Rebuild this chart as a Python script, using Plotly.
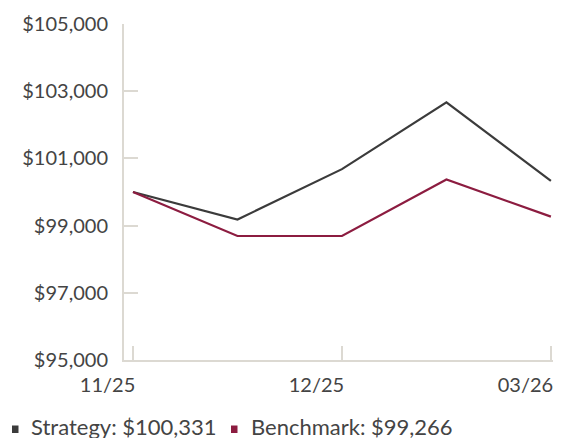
import plotly.graph_objects as go

x_idx = [0, 1, 2, 3, 4]
strategy = [100000, 99180, 100680, 102670, 100331]
benchmark = [100000, 98690, 98690, 100370, 99266]
tick_vals = [0, 2, 4]
tick_text = ["11/25", "12/25", "03/26"]
y_ticks = [95000, 97000, 99000, 101000, 103000, 105000]
legend_names = ["Strategy: $100,331", "Benchmark: $99,266"]

c_strat = "#3b3b3b"
c_bench = "#8c1c40"
axis_c = "#dcd9d2"
font_c = "#444444"
FONT = "Lato, Open Sans, sans-serif"

OFF = 8  # page body margin
W, H = 561 - OFF, 438 - OFF
L, R, T, B = 124 - OFF, 8, 24 - OFF, 78
pw, ph = W - L - R, H - T - B

def px_x(p):
    return (p - OFF - L) / pw

def px_y(p):
    return (H - B - (p - OFF)) / ph

fig = go.Figure()
fig.add_trace(go.Scatter(x=x_idx, y=strategy, mode="lines", name=legend_names[0],
                         line=dict(color=c_strat, width=2.2), showlegend=False))
fig.add_trace(go.Scatter(x=x_idx, y=benchmark, mode="lines", name=legend_names[1],
                         line=dict(color=c_bench, width=2.2), showlegend=False))

leg_text_x = [32, 252]
leg_bullet_x = [12, 231]
for name, col, tx, bx in zip(legend_names, [c_strat, c_bench], leg_text_x, leg_bullet_x):
    fig.add_annotation(x=px_x(tx), y=px_y(426), xref="paper", yref="paper",
                       text=name, showarrow=False, xanchor="left", yanchor="middle",
                       borderpad=0, xshift=-2,
                       font=dict(family=FONT, size=22, color=font_c))
    fig.add_shape(type="rect", xref="paper", yref="paper",
                  x0=px_x(bx), x1=px_x(bx + 6.5), y0=px_y(433), y1=px_y(425.5),
                  fillcolor=col, line=dict(width=0))

fig.update_layout(
    width=W, height=H,
    margin=dict(l=L, r=R, t=T, b=B, autoexpand=False),
    paper_bgcolor="white", plot_bgcolor="white",
    font=dict(family=FONT, size=20, color=font_c),
    showlegend=False,
)
fig.update_xaxes(range=[-0.086, 4.02], tickvals=tick_vals, ticktext=tick_text,
                 showgrid=False, zeroline=False, showline=True, linecolor=axis_c,
                 linewidth=2, ticks="inside", ticklen=14, tickcolor=axis_c,
                 tickwidth=1.5, ticklabelposition="outside left", automargin=False,
                 ticklabelstandoff=6, ticklabelshift=4,
                 tickfont=dict(family=FONT, size=20, color=font_c))
fig.update_yaxes(range=[95000, 105000], tickvals=y_ticks,
                 ticktext=[f"${v:,}" for v in y_ticks], automargin=False,
                 showgrid=False, zeroline=False, showline=True, linecolor=axis_c,
                 linewidth=2, ticks="inside", ticklen=14, tickcolor=axis_c,
                 tickwidth=1.5, ticklabelstandoff=10,
                 tickfont=dict(family=FONT, size=20, color=font_c))

fig.write_html("out.html")
